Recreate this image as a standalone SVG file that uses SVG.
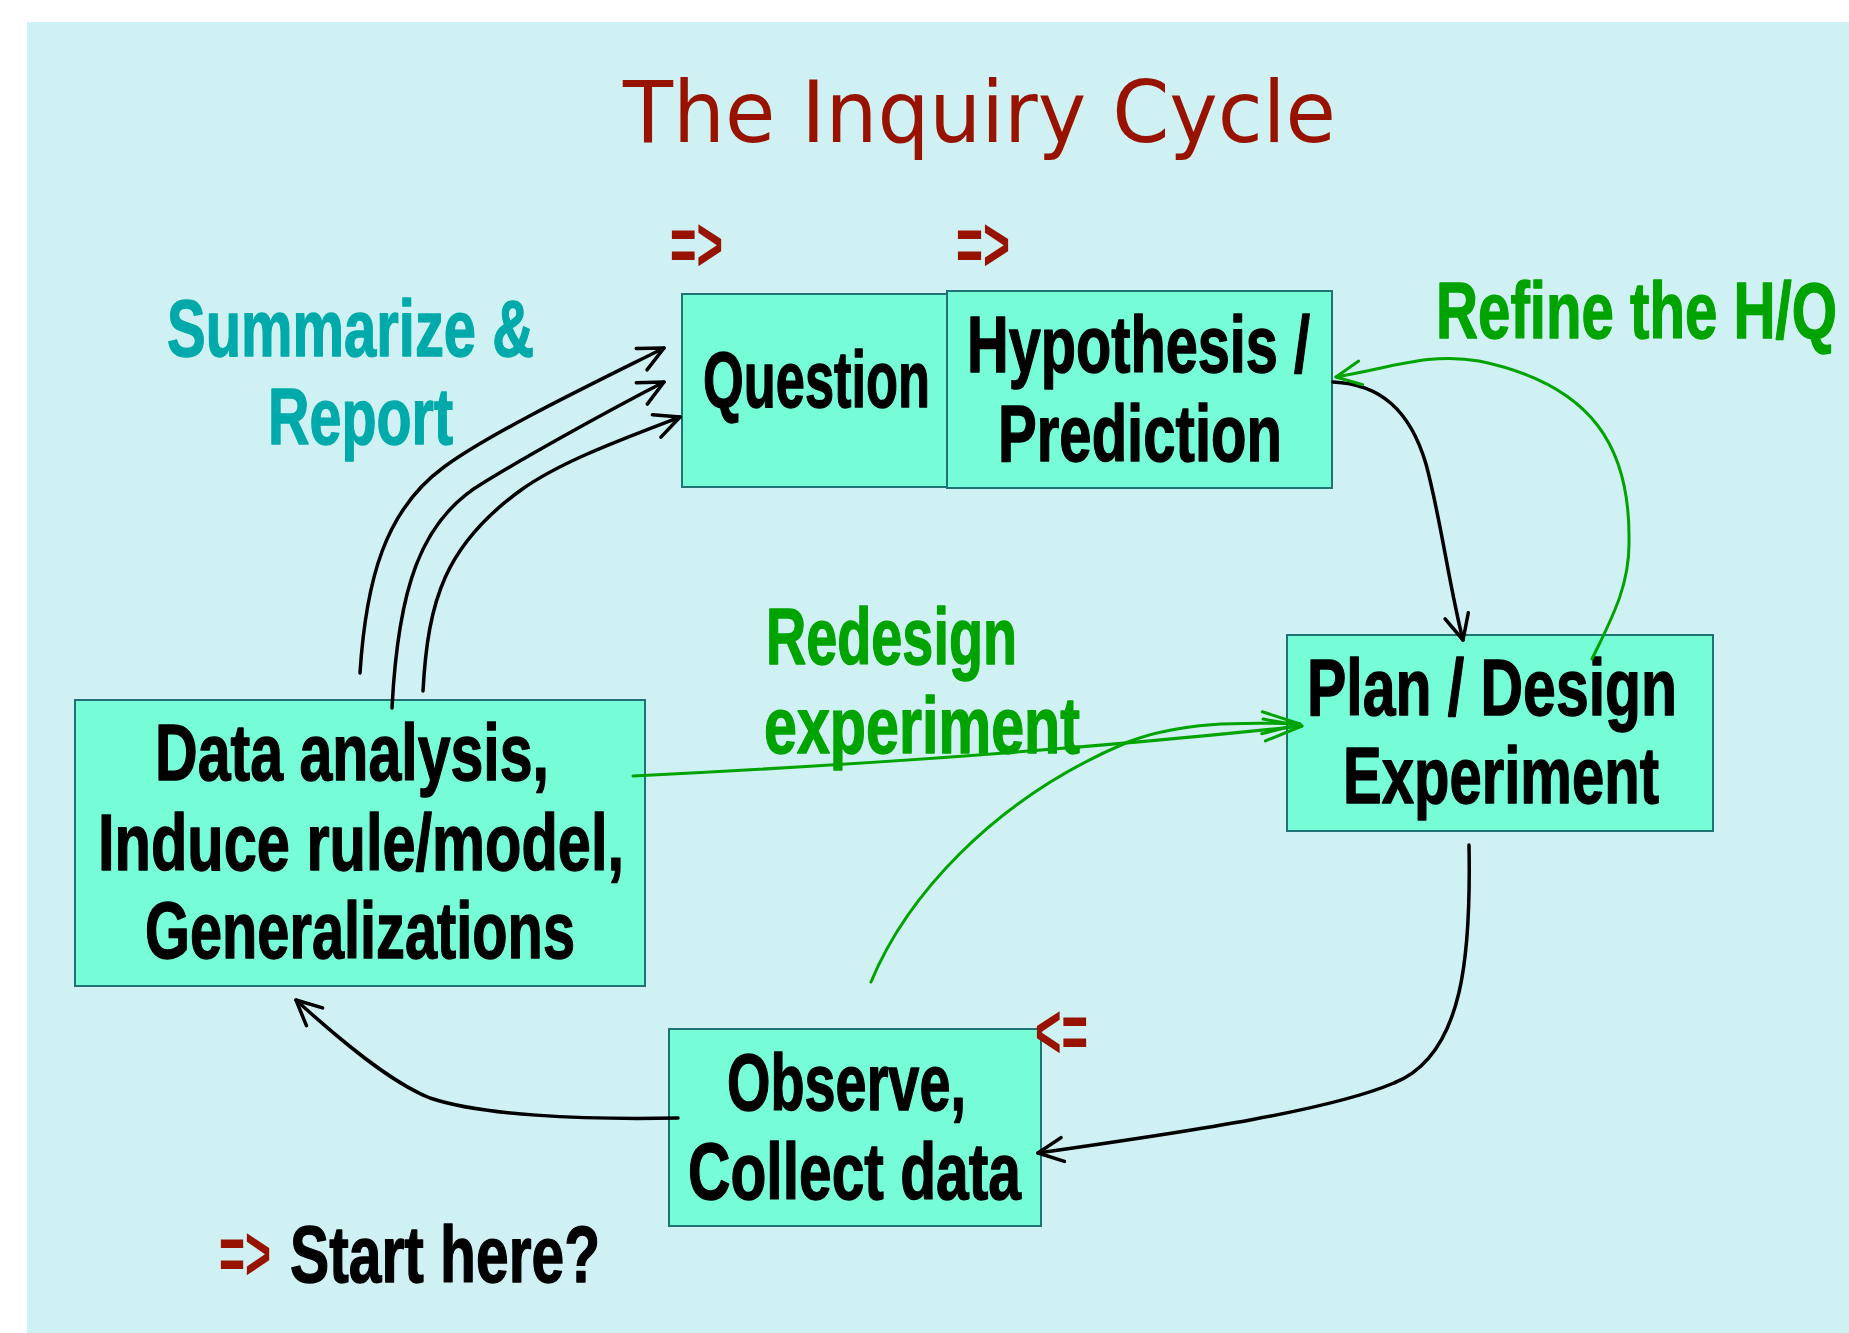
<svg xmlns="http://www.w3.org/2000/svg" width="1849" height="1333" viewBox="0 0 1849 1333">
<style>
.box{fill:#76FCD6;stroke:#1F7373;stroke-width:2}
.bt{font-family:"Liberation Sans",Arial,sans-serif;font-weight:bold;font-size:80px;fill:#000;stroke:#000;stroke-width:1.4;stroke-linejoin:round}
.lab{font-family:"Liberation Sans",Arial,sans-serif;font-weight:bold;font-size:80px;stroke-width:1.4;stroke-linejoin:round}
.teal{fill:#00AAAA;stroke:#00AAAA}
.green{fill:#00A300;stroke:#00A300}
.red{font-family:"Liberation Sans",Arial,sans-serif;font-weight:bold;font-size:78px;fill:#971300}
.title{font-family:"DejaVu Sans","Liberation Sans",sans-serif;font-size:86px;fill:#971300}
.cb{fill:none;stroke:#000;stroke-width:3.5;stroke-linecap:round}
.cg{fill:none;stroke:#00A300;stroke-width:3;stroke-linecap:round}
</style>
<defs>
<marker id="arrB" markerUnits="userSpaceOnUse" viewBox="-32 -18 36 36" refX="0" refY="0" markerWidth="36" markerHeight="36" orient="auto" overflow="visible">
<path d="M-25,-12 L0,0 L-25,12" fill="none" stroke="#000" stroke-width="3.5" stroke-linecap="round" stroke-linejoin="round"/>
</marker>
<marker id="arrG" markerUnits="userSpaceOnUse" viewBox="-32 -18 36 36" refX="0" refY="0" markerWidth="36" markerHeight="36" orient="auto" overflow="visible">
<path d="M-25,-12 L0,0 L-25,12" fill="none" stroke="#00A300" stroke-width="3" stroke-linecap="round" stroke-linejoin="round"/>
</marker>
<marker id="arrG2" markerUnits="userSpaceOnUse" viewBox="-44 -16 48 32" refX="0" refY="0" markerWidth="48" markerHeight="32" orient="auto" overflow="visible">
<path d="M-38,-11 L0,0 L-38,11" fill="none" stroke="#00A300" stroke-width="3" stroke-linecap="round" stroke-linejoin="round"/>
</marker>
</defs>
<rect x="0" y="0" width="1849" height="1333" fill="#FFFFFF"/>
<rect x="27" y="22" width="1822" height="1311" fill="#D0F1F3"/>
<text class="title" transform="translate(623,142) scale(0.85,1)" textLength="838.8" lengthAdjust="spacingAndGlyphs">The Inquiry Cycle</text>

<g id="node-question">
<rect class="box" x="682" y="294" width="265" height="193"/>
<text class="bt" font-size="78" transform="translate(703,407) scale(0.7,1)" textLength="324.3" lengthAdjust="spacingAndGlyphs">Question</text>
</g>
<g id="node-hypothesis">
<rect class="box" x="947" y="291" width="385" height="197"/>
<text class="bt" transform="translate(967,372) scale(0.7,1)" textLength="490" lengthAdjust="spacingAndGlyphs">Hypothesis /</text>
<text class="bt" transform="translate(998,461) scale(0.7,1)" textLength="405.7" lengthAdjust="spacingAndGlyphs">Prediction</text>
</g>
<g id="node-plan">
<rect class="box" x="1287" y="635" width="426" height="196"/>
<text class="bt" transform="translate(1307,715) scale(0.7,1)" textLength="528.6" lengthAdjust="spacingAndGlyphs">Plan / Design</text>
<text class="bt" transform="translate(1343,803) scale(0.7,1)" textLength="451.4" lengthAdjust="spacingAndGlyphs">Experiment</text>
</g>
<g id="node-data">
<rect class="box" x="75" y="700" width="570" height="286"/>
<text class="bt" transform="translate(155,780) scale(0.7,1)" textLength="562.9" lengthAdjust="spacingAndGlyphs">Data analysis,</text>
<text class="bt" transform="translate(98,870) scale(0.7,1)" textLength="751.4" lengthAdjust="spacingAndGlyphs">Induce rule/model,</text>
<text class="bt" transform="translate(145,958) scale(0.7,1)" textLength="614.3" lengthAdjust="spacingAndGlyphs">Generalizations</text>
</g>
<g id="node-observe">
<rect class="box" x="669" y="1029" width="372" height="197"/>
<text class="bt" transform="translate(727,1110) scale(0.7,1)" textLength="341.4" lengthAdjust="spacingAndGlyphs">Observe,</text>
<text class="bt" transform="translate(688,1199) scale(0.7,1)" textLength="475.7" lengthAdjust="spacingAndGlyphs">Collect data</text>
</g>

<g id="labels">
<text class="lab teal" transform="translate(167,356) scale(0.7,1)" textLength="524.3" lengthAdjust="spacingAndGlyphs">Summarize &amp;</text>
<text class="lab teal" transform="translate(268,444) scale(0.7,1)" textLength="264.3" lengthAdjust="spacingAndGlyphs">Report</text>
<text class="lab green" transform="translate(1436,338) scale(0.7,1)" textLength="572.9" lengthAdjust="spacingAndGlyphs">Refine the H/Q</text>
<text class="lab green" transform="translate(766,664) scale(0.7,1)" textLength="358.6" lengthAdjust="spacingAndGlyphs">Redesign</text>
<text class="lab green" transform="translate(764,753) scale(0.7,1)" textLength="451.4" lengthAdjust="spacingAndGlyphs">experiment</text>
<text class="bt" transform="translate(290,1282) scale(0.7,1)" textLength="442.9" lengthAdjust="spacingAndGlyphs">Start here?</text>
<text class="red" transform="translate(670,271) scale(0.6,1)" textLength="88.3" lengthAdjust="spacingAndGlyphs">=&gt;</text>
<text class="red" transform="translate(956,271) scale(0.6,1)" textLength="90" lengthAdjust="spacingAndGlyphs">=&gt;</text>
<text class="red" transform="translate(1035,1058) scale(0.6,1)" textLength="88.3" lengthAdjust="spacingAndGlyphs">&lt;=</text>
<text class="red" font-size="74" transform="translate(219,1280) scale(0.6,1)" textLength="86.7" lengthAdjust="spacingAndGlyphs">=&gt;</text>
</g>

<g id="connectors">
<path class="cb" marker-end="url(#arrB)" d="M360,673 C366,580 385,510 444,467 C490,433 590,385 664,348"/>
<path class="cb" marker-end="url(#arrB)" d="M392,708 C398,590 420,520 483,483 C520,460 600,415 664,382"/>
<path class="cb" marker-end="url(#arrB)" d="M423,691 C428,600 445,545 521,490 C560,462 620,440 680,417"/>
<path class="cb" marker-end="url(#arrB)" d="M1333,382 C1380,384 1410,410 1426,464 C1440,515 1450,590 1463,640"/>
<path class="cb" marker-end="url(#arrB)" d="M1469,845 C1471,950 1465,1055 1394,1083 C1330,1110 1200,1130 1038,1153"/>
<path class="cb" stroke-width="4" marker-end="url(#arrB)" d="M678,1118 C580,1120 480,1115 430,1098 C390,1082 340,1040 296,1000"/>
<path class="cg" marker-end="url(#arrG)" d="M1592,659 C1612,618 1630,585 1629,540 C1630,450 1595,385 1479,361 C1430,352 1390,368 1336,377"/>
<path class="cg" marker-end="url(#arrG2)" d="M633,776 Q1000,758 1302,726"/>
<path class="cg" marker-end="url(#arrG2)" d="M871,982 C905,900 990,800 1128,742 C1180,722 1240,722 1300,724"/>
</g>
</svg>
